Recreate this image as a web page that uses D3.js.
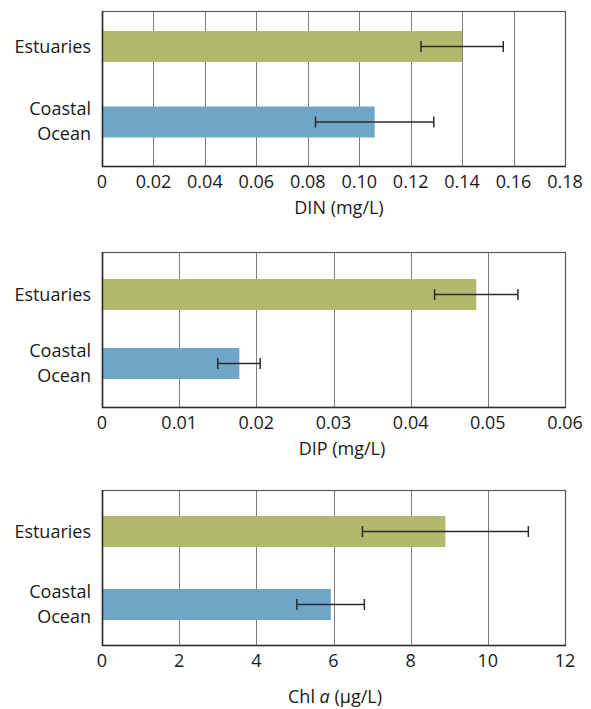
<!DOCTYPE html>
<html>
<head>
<meta charset="utf-8">
<script src="https://cdn.jsdelivr.net/npm/d3@7"></script>
<style>
  html, body { margin: 0; padding: 0; background: #ffffff; }
  svg { display: block; }
  text { font-family: "Open Sans", Lato, sans-serif; fill: #1a1a1a; }
</style>
</head>
<body>
<svg id="chart" width="591" height="709"></svg>
<script>
// ---- data ----
const categories = ["Estuaries", "Coastal Ocean"];
const dinMean = [0.140, 0.106];
const dinLow  = [0.124, 0.083];
const dinHigh = [0.156, 0.129];
const dipMean = [0.0485, 0.0178];
const dipLow  = [0.0431, 0.0150];
const dipHigh = [0.0539, 0.0205];
const chlMean = [8.90, 5.93];
const chlLow  = [6.75, 5.05];
const chlHigh = [11.05, 6.80];
const dinTicks = [0, 0.02, 0.04, 0.06, 0.08, 0.10, 0.12, 0.14, 0.16, 0.18];
const dinTickLabels = ["0", "0.02", "0.04", "0.06", "0.08", "0.10", "0.12", "0.14", "0.16", "0.18"];
const dipTicks = [0, 0.01, 0.02, 0.03, 0.04, 0.05, 0.06];
const dipTickLabels = ["0", "0.01", "0.02", "0.03", "0.04", "0.05", "0.06"];
const chlTicks = [0, 2, 4, 6, 8, 10, 12];
const chlTickLabels = ["0", "2", "4", "6", "8", "10", "12"];
const barColors = ["#b3b96c", "#6fa6c8"];

// ---- layout ----
const left = 102, right = 565;
const panels = [
  { mean: dinMean, low: dinLow, high: dinHigh, ticks: dinTicks, labels: dinTickLabels,
    top: 11, bottom: 166, centers: [46.5, 122], titleDy: 47.5, titleX: 339, title: ["DIN (mg/L)"] },
  { mean: dipMean, low: dipLow, high: dipHigh, ticks: dipTicks, labels: dipTickLabels,
    top: 252, bottom: 407, centers: [294.5, 363.5], titleDy: 48, titleX: 342, title: ["DIP (mg/L)"] },
  { mean: chlMean, low: chlLow, high: chlHigh, ticks: chlTicks, labels: chlTickLabels,
    top: 490, bottom: 645, centers: [531.5, 604.5], titleDy: 58, titleX: 335, title: ["Chl ", "a", " (µg/L)"] }
];
const barH = 31, capH = 11;

const svg = d3.select("#chart");

panels.forEach(p => {
  const g = svg.append("g");
  const x = d3.scaleLinear().domain([p.ticks[0], p.ticks[p.ticks.length - 1]]).range([left, right]);
  const y = d3.scalePoint().domain(categories).range(p.centers);

  // gridlines
  g.append("g").selectAll("line").data(p.ticks.slice(1, -1)).join("line")
    .attr("x1", d => Math.round(x(d)) + 0.5).attr("x2", d => Math.round(x(d)) + 0.5)
    .attr("y1", p.top).attr("y2", p.bottom)
    .attr("stroke", "#7d7d7d").attr("stroke-width", 1);

  // frame
  g.append("rect").attr("x", left + 0.5).attr("y", p.top + 0.5)
    .attr("width", right - left).attr("height", p.bottom - p.top)
    .attr("fill", "none").attr("stroke", "#5a5a5a").attr("stroke-width", 1.2);

  // bars
  const rows = categories.map((c, i) => ({ c, i, m: p.mean[i], lo: p.low[i], hi: p.high[i] }));
  g.append("g").selectAll("rect").data(rows).join("rect")
    .attr("x", x(0) + 1).attr("y", d => y(d.c) - barH / 2)
    .attr("width", d => x(d.m) - x(0) - 1).attr("height", barH)
    .attr("fill", d => barColors[d.i]);

  // left & bottom axis lines
  g.append("line").attr("x1", left + 0.5).attr("x2", left + 0.5).attr("y1", p.top).attr("y2", p.bottom + 1)
    .attr("stroke", "#2e2e2e").attr("stroke-width", 1.6);
  g.append("line").attr("x1", left).attr("x2", right + 1).attr("y1", p.bottom + 0.5).attr("y2", p.bottom + 0.5)
    .attr("stroke", "#2e2e2e").attr("stroke-width", 1.6);

  // error bars
  const eb = g.append("g").attr("stroke", "#2b2b2b").attr("stroke-width", 1.5);
  eb.selectAll("line.h").data(rows).join("line").attr("class", "h")
    .attr("x1", d => x(d.lo)).attr("x2", d => x(d.hi))
    .attr("y1", d => y(d.c)).attr("y2", d => y(d.c));
  eb.selectAll("line.l").data(rows).join("line").attr("class", "l")
    .attr("x1", d => x(d.lo)).attr("x2", d => x(d.lo))
    .attr("y1", d => y(d.c) - capH / 2).attr("y2", d => y(d.c) + capH / 2);
  eb.selectAll("line.r").data(rows).join("line").attr("class", "r")
    .attr("x1", d => x(d.hi)).attr("x2", d => x(d.hi))
    .attr("y1", d => y(d.c) - capH / 2).attr("y2", d => y(d.c) + capH / 2);

  // category labels
  rows.forEach(d => {
    const words = d.c.split(" ");
    const t = g.append("text").attr("text-anchor", "end").attr("font-size", 18);
    if (words.length === 1) {
      t.append("tspan").attr("x", 91).attr("y", y(d.c) + 6.5).text(words[0]);
    } else {
      t.append("tspan").attr("x", 91).attr("y", y(d.c) - 7).text(words[0]);
      t.append("tspan").attr("x", 91).attr("y", y(d.c) + 18).text(words[1]);
    }
  });

  // tick labels
  g.append("g").selectAll("text").data(p.ticks).join("text")
    .attr("x", d => x(d)).attr("y", p.bottom + 22)
    .attr("text-anchor", "middle").attr("font-size", 18).attr("fill", "#111")
    .text((d, i) => p.labels[i]);

  // axis title
  const tt = g.append("text").attr("x", p.titleX).attr("y", p.bottom + p.titleDy)
    .attr("text-anchor", "middle").attr("font-size", 18).attr("fill", "#333");
  p.title.forEach((s, i) => {
    const ts = tt.append("tspan").text(s);
    if (p.title.length === 3 && i === 1) ts.attr("font-style", "italic");
  });
});
</script>
</body>
</html>
